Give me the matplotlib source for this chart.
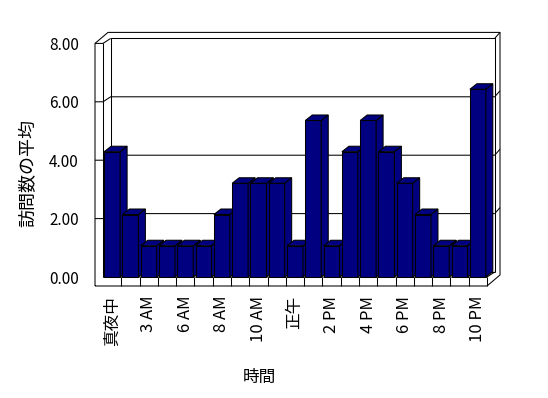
import matplotlib
matplotlib.use('Agg')
import matplotlib.pyplot as plt
from matplotlib.patches import Polygon

plt.rcParams['font.family'] = ['Noto Sans CJK JP', 'DejaVu Sans']

# ---- data ----
categories = ['真夜中', '1 AM', '3 AM', '4 AM', '6 AM', '7 AM', '8 AM', '9 AM',
              '10 AM', '11 AM', '正午', '1 PM', '2 PM', '3 PM', '4 PM', '5 PM',
              '6 PM', '7 PM', '8 PM', '9 PM', '10 PM']
values = [4.29, 2.14, 1.07, 1.07, 1.07, 1.07, 2.14, 3.21, 3.21, 3.21, 1.07,
          5.36, 1.07, 4.29, 5.36, 4.29, 3.21, 2.14, 1.07, 1.07, 6.43]
y_ticks = [0, 2, 4, 6, 8]
y_tick_labels = ['0.00', '2.00', '4.00', '6.00', '8.00']
x_title = '時間'
y_title = '訪問数の平均'

NAVY = '#000080'
LWPT = 0.75

W, H = 548, 398
fig = plt.figure(figsize=(W / 100, H / 100), dpi=100)
# front plane of the 3-D box (pixels): x 103..487, y 43.4..277
left_px, right_px, top_px, bot_px = 103, 487, 43.4, 277
ax = fig.add_axes([left_px / W, 1 - bot_px / H,
                   (right_px - left_px) / W, (bot_px - top_px) / H])
n = len(categories)
ax.set_xlim(-0.5, n - 0.5)
ax.set_ylim(0, 8)
for s in ax.spines.values():
    s.set_visible(False)

PX = (right_px - left_px) / n          # pixels per category
PY = (bot_px - top_px) / 8             # pixels per value unit
px = lambda p: p / PX
py = lambda p: p / PY

X0, X1, YT = -0.5, n - 0.5, 8
LW = px(8)      # left wall thickness
FT = py(9)      # floor thickness
Dx, Dy = px(7.7), py(5)      # depth of plot area
Tx, Ty = px(5.3), py(6)      # back wall thickness

def line(pts, z=2):
    xs, ys = zip(*pts)
    ax.plot(xs, ys, color='black', lw=LWPT, clip_on=False, zorder=z,
            solid_capstyle='butt')

# outer outline
outline = [(X0 - LW, -FT), (X1, -FT), (X1 + Dx + Tx, -FT + Dy + Ty),
           (X1 + Dx + Tx, YT + Dy + Ty), (X0 - LW + Dx + Tx, YT + Dy + Ty),
           (X0 - LW, YT), (X0 - LW, -FT)]
line(outline)
# left wall
line([(X0, 0), (X0, YT)])
line([(X0 - LW, YT), (X0, YT), (X0 + Dx, YT + Dy)])
# back wall inner face
line([(X0 + Dx, Dy), (X0 + Dx, YT + Dy), (X1 + Dx, YT + Dy), (X1 + Dx, Dy)])
line([(X1 + Dx, YT + Dy), (X1 + Dx + Tx, YT + Dy + Ty)])
# floor
line([(X0, 0), (X1, 0), (X1 + Dx, Dy)])
line([(X0 + Dx, Dy), (X1 + Dx, Dy)])
line([(X1, 0), (X1, -FT)])
for i in range(1, n):
    line([(X0 + i, 0), (X0 + i, -FT)])
# gridlines
for v in y_ticks[1:-1]:
    line([(X0 - LW, v), (X0, v), (X0 + Dx, v + Dy), (X1 + Dx, v + Dy)])
    line([(X1 + Dx, v + Dy), (X1 + Dx + Tx, v + Dy + Ty)])

# bars
BW = 0.87
bdx, bdy = px(7), py(5.5)
bars = ax.bar(range(n), values, width=BW, color=NAVY, edgecolor='black',
              linewidth=LWPT, clip_on=False)
for i, r in enumerate(bars):
    r.set_zorder(10 + 2 * i)
    x0 = r.get_x()
    x1 = x0 + r.get_width()
    h = r.get_height()
    side = Polygon([(x1, 0), (x1 + bdx, bdy), (x1 + bdx, h + bdy), (x1, h)],
                   closed=True, facecolor=NAVY, edgecolor='black',
                   linewidth=LWPT, zorder=11 + 2 * i, clip_on=False)
    top = Polygon([(x0, h), (x1, h), (x1 + bdx, h + bdy), (x0 + bdx, h + bdy)],
                  closed=True, facecolor=NAVY, edgecolor='black',
                  linewidth=LWPT, zorder=11 + 2 * i, clip_on=False)
    ax.add_patch(side)
    ax.add_patch(top)

# ticks
ax.set_yticks(y_ticks)
ax.set_yticklabels(y_tick_labels)
ax.set_xticks(range(n))
ax.set_xticklabels([c if i % 2 == 0 else '' for i, c in enumerate(categories)],
                   rotation=90)
ax.tick_params(axis='y', length=0, pad=17.5, labelsize=11)
ax.tick_params(axis='x', length=0, pad=13.5, labelsize=12)
for t in ax.get_xticklabels():
    t.set_va('top')

fig.text(259 / W, 1 - 377 / H, x_title, ha='center', va='center', fontsize=12)
fig.text(28 / W, 1 - 173 / H, y_title, ha='center', va='center',
         rotation=90, fontsize=13)

fig.savefig('out.png', dpi=100, facecolor='white')
